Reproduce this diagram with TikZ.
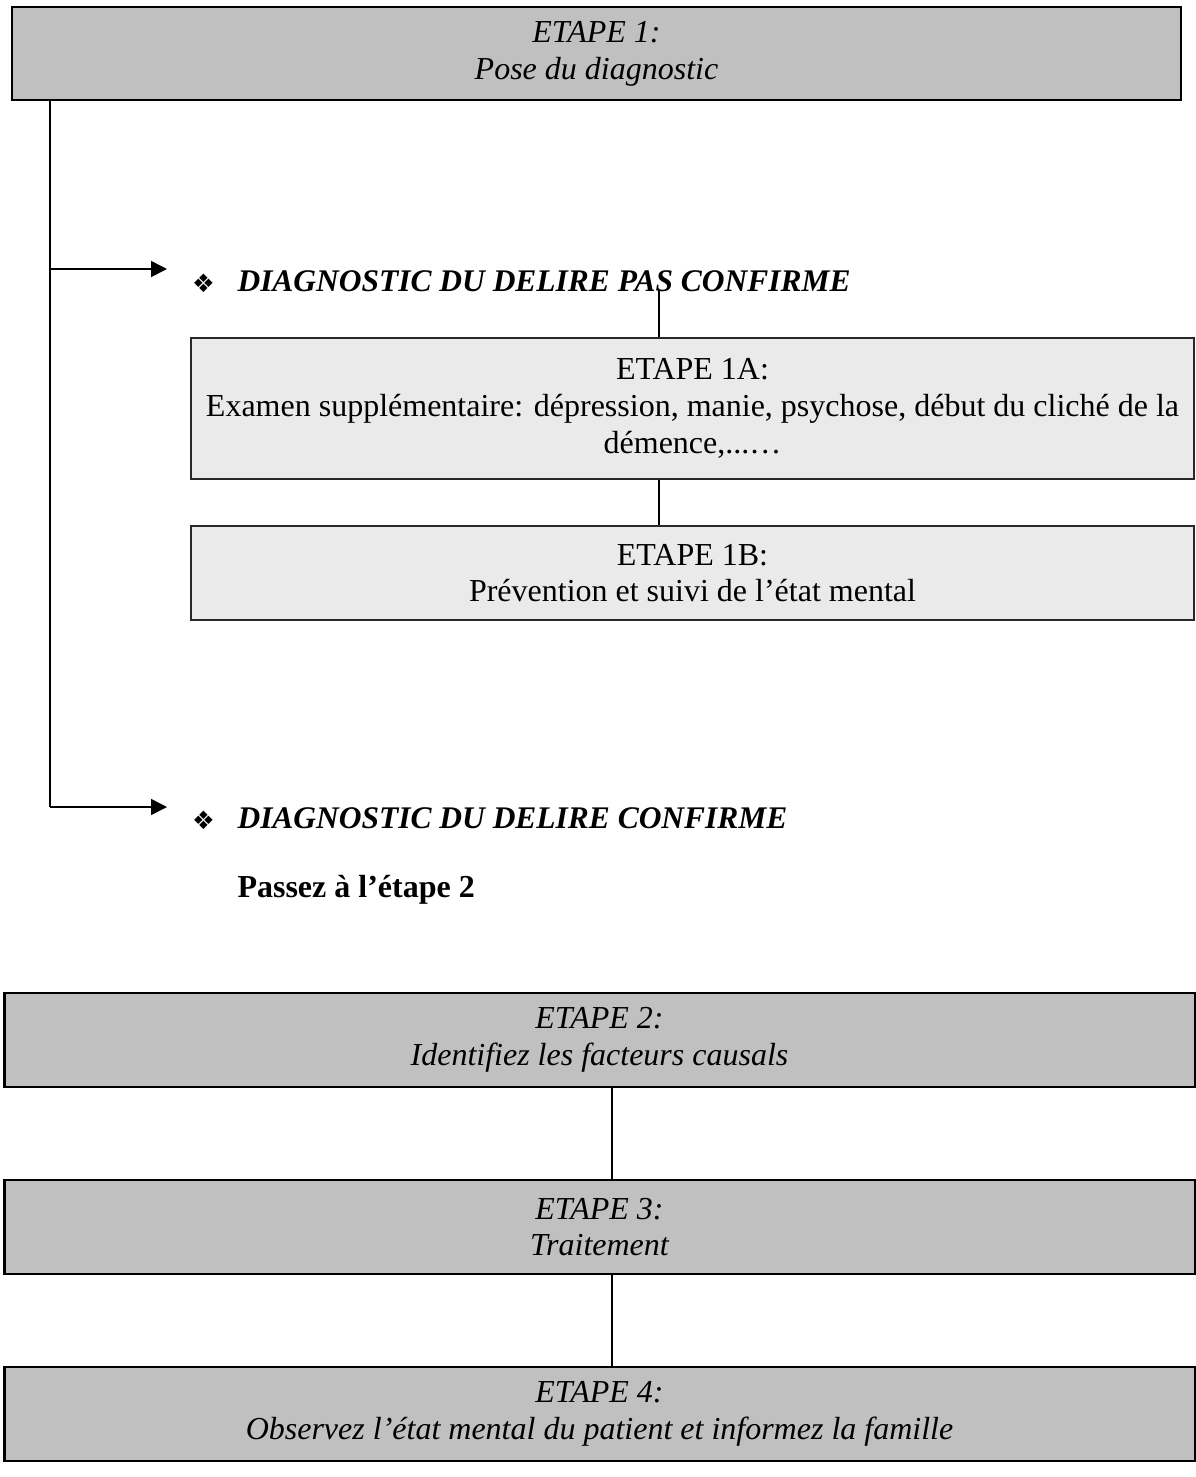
\documentclass[tikz,border=0pt]{standalone}
\usepackage{fontspec}
\setmainfont{Liberation Serif}
\newfontfamily\dejavu{DejaVu Sans}
\usetikzlibrary{arrows.meta}
\definecolor{dkfill}{RGB}{192,192,192}
\definecolor{ltfill}{RGB}{234,234,234}
\definecolor{ltedge}{RGB}{40,40,40}
\tikzset{
  dkbox/.style={draw=black, line width=0.75pt, fill=dkfill, inner sep=0pt, align=center,
                font={\fontsize{12}{13.8}\selectfont\itshape}},
  ltbox/.style={draw=ltedge, line width=0.5pt, fill=ltfill, inner sep=0pt, align=center,
                font={\fontsize{12}{13.8}\selectfont}},
  conn/.style={draw=black, line width=0.6pt},
  arr/.style={conn, -{Triangle[length=6pt,width=6pt]}},
  bullet/.style={inner sep=0pt, font={\dejavu\fontsize{9.5}{10}\selectfont}},
  head/.style={inner sep=0pt, anchor=base west, font={\fontsize{11.8}{13.8}\selectfont\bfseries\itshape}},
}
\begin{document}
\begin{tikzpicture}[x=0.375pt,y=-0.375pt]
\useasboundingbox (0,0) rectangle (1196,1477);

% Boxes
\node[dkbox, minimum width=1169*0.375pt, minimum height=93*0.375pt] (b1) at (596.5,53.5)
  {ETAPE 1:\\Pose du diagnostic};
\node[ltbox, minimum width=1003*0.375pt, minimum height=141*0.375pt] (b1a) at (692.5,408.5)
  {ETAPE 1A:\\Examen supplémentaire: dépression, manie, psychose, début du cliché de la\\démence,...…};
\node[ltbox, minimum width=1003*0.375pt, minimum height=94*0.375pt] (b1b) at (692.5,573)
  {ETAPE 1B:\\Prévention et suivi de l’état mental};
\node[dkbox, minimum width=1190*0.375pt, minimum height=94*0.375pt] (b2) at (599.5,1040)
  {ETAPE 2:\\Identifiez les facteurs causals};
\node[dkbox, minimum width=1190*0.375pt, minimum height=94*0.375pt] (b3) at (599.5,1227)
  {ETAPE 3:\\Traitement};
\node[dkbox, minimum width=1190*0.375pt, minimum height=94*0.375pt] (b4) at (599.5,1413.5)
  {ETAPE 4:\\Observez l’état mental du patient et informez la famille};

% Headings
\node[bullet] (bul1) at (203.5,283) {❖};
\node[head] (h1) at (237,291) {DIAGNOSTIC DU DELIRE PAS CONFIRME};
\node[bullet] (bul2) at (203.5,820) {❖};
\node[head] (h2) at (237,828) {DIAGNOSTIC DU DELIRE CONFIRME};
\node[inner sep=0pt, anchor=base west, font={\fontsize{12}{13.8}\selectfont\bfseries}] (pass) at (237,897) {Passez à l’étape 2};

% Connector coordinates
\coordinate (j1) at (50,269);
\coordinate (j2) at (50,807);
\coordinate (t1) at (167,269);
\coordinate (t2) at (167,807);
\coordinate (c1) at (659,290);

% Connectors
\draw[conn] (b1.south -| j1) -- (j2);
\draw[arr] (j1) -- (t1);
\draw[arr] (j2) -- (t2);
\draw[conn] (c1) -- (c1 |- b1a.north);
\draw[conn] (c1 |- b1a.south) -- (c1 |- b1b.north);
\draw[conn] (b2.south -| 612,0) -- (b3.north -| 612,0);
\draw[conn] (b3.south -| 612,0) -- (b4.north -| 612,0);
\end{tikzpicture}
\end{document}
